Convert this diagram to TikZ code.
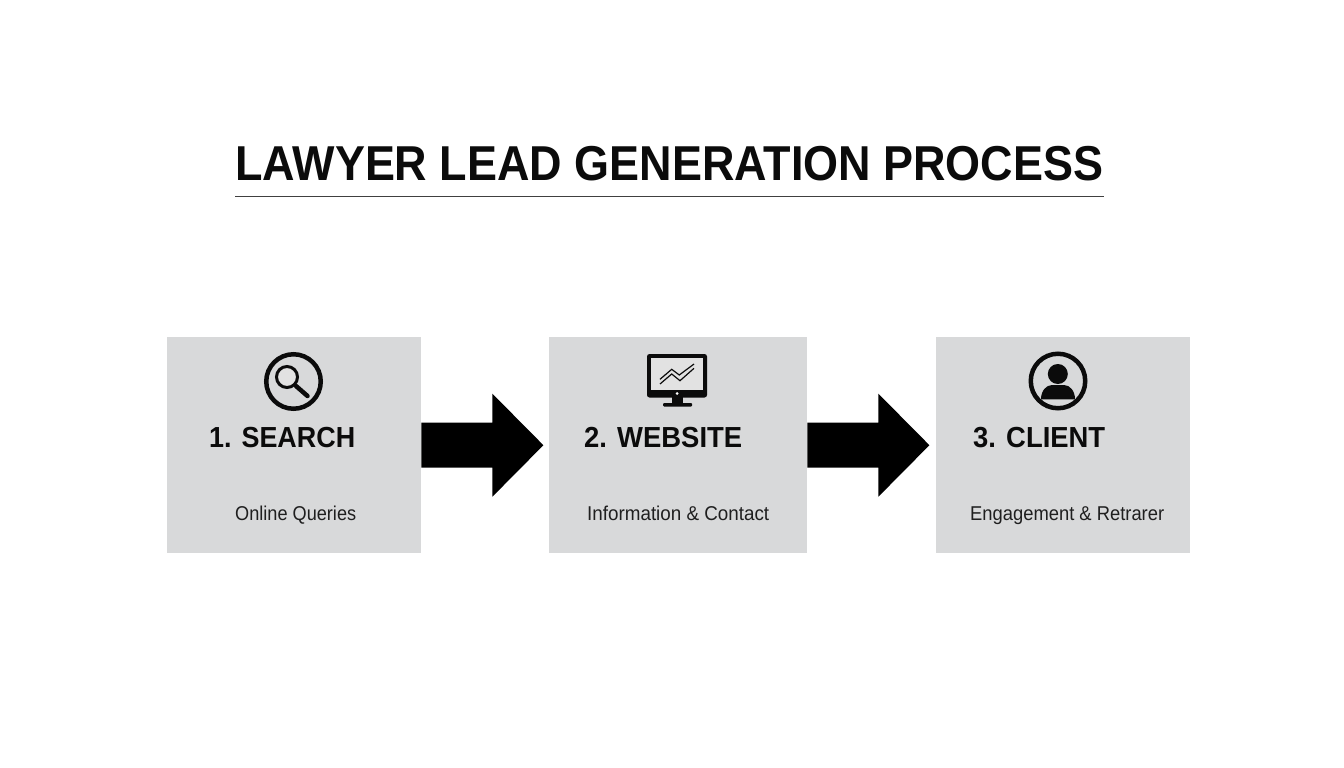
\documentclass[tikz,border=0pt]{standalone}
\usepackage{fontspec}
\usepackage{graphicx}
\setmainfont{Liberation Sans}
\definecolor{boxgrey}{HTML}{D8D9DA}
\definecolor{screengrey}{HTML}{E2E2E2}
\definecolor{inkblack}{HTML}{0B0B0B}
\newcommand{\fitw}[2]{\resizebox{#1pt}{\height}{#2}}
\tikzset{
  stepbox/.style={fill=boxgrey,draw=none,inner sep=0pt,minimum height=216pt,anchor=north west},
  titletext/.style={anchor=base west,inner sep=0pt,text=inkblack,font=\bfseries\fontsize{49}{52}\selectfont},
  headtext/.style={anchor=base west,inner sep=0pt,text=inkblack,font=\bfseries\fontsize{29}{32}\selectfont},
  subtext/.style={anchor=base west,inner sep=0pt,text=black!88,font=\fontsize{20}{24}\selectfont},
  blockarrow/.style={fill=black,draw=none},
  ring/.style={draw=inkblack,line width=4.5pt,fill=none},
}
\begin{document}
\begin{tikzpicture}[x=1pt,y=-1pt]
\useasboundingbox[fill=white] (0,0) rectangle (1344,768);

% title
\node[titletext] (title) at (235,180) {\fitw{868}{LAWYER LEAD GENERATION PROCESS}};
\coordinate (ruleL) at (235,196.5);
\coordinate (ruleR) at (1104,196.5);
\draw[draw=black!75,line width=1.6pt] (ruleL) -- (ruleR);

% boxes
\node[stepbox,minimum width=254pt] (b1) at (167,337) {};
\node[stepbox,minimum width=258pt] (b2) at (549,337) {};
\node[stepbox,minimum width=254pt] (b3) at (936,337) {};

% block arrows
\fill[blockarrow] (b1.east) ++(0,-22.5) -- ++(71,0) -- ++(0,-29) -- ++(51,51.5) -- ++(-51,51.5) -- ++(0,-29) -- ++(-71,0) -- cycle;
\fill[blockarrow] (b2.east) ++(0,-22.5) -- ++(71,0) -- ++(0,-29) -- ++(51,51.5) -- ++(-51,51.5) -- ++(0,-29) -- ++(-71,0) -- cycle;

% labels
\node[headtext] (h1) at (209,447.5) {\fitw{146}{1. SEARCH}};
\node[headtext] (h2) at (584,447) {\fitw{158}{2. WEBSITE}};
\node[headtext] (h3) at (973,447.5) {\fitw{132}{3. CLIENT}};
\node[subtext] (s1) at (235,520) {\fitw{121}{Online Queries}};
\node[subtext] (s2) at (587,520) {\fitw{182}{Information \& Contact}};
\node[subtext] (s3) at (970,520) {\fitw{194}{Engagement \& Retrarer}};

% search icon
\draw[ring] (293.5,381.5) circle (27.25);
\draw[draw=inkblack,fill=screengrey,line width=3pt] (287,377) circle (10.5);
\draw[draw=inkblack,line width=4.5pt,line cap=round] (296,386) -- (307.5,396);

% monitor icon
\fill[inkblack,rounded corners=2.5pt] (647,354) rectangle (707,397.5);
\fill[screengrey] (651,358) rectangle (703,390);
\fill[white] (677,393.5) circle (1.5);
\fill[inkblack] (672,397) rectangle (683,403);
\fill[inkblack,rounded corners=1pt] (663,403) rectangle (692,406.5);
\draw[inkblack,line width=1.2pt] (660,379.3) -- (671.7,369.3) -- (679.3,375) -- (694,364);
\draw[inkblack,line width=1.2pt] (660,384) -- (671.7,374) -- (680,380.7) -- (694,368.3);

% person icon
\draw[ring] (1058,381) circle (27.25);
\fill[inkblack] (1057.8,374) circle (10);
\fill[inkblack] (1041,399.3) .. controls (1041,391) and (1046,385) .. (1052,385) -- (1064,385) .. controls (1070,385) and (1075,391) .. (1075,399.3) -- cycle;
\end{tikzpicture}
\end{document}
